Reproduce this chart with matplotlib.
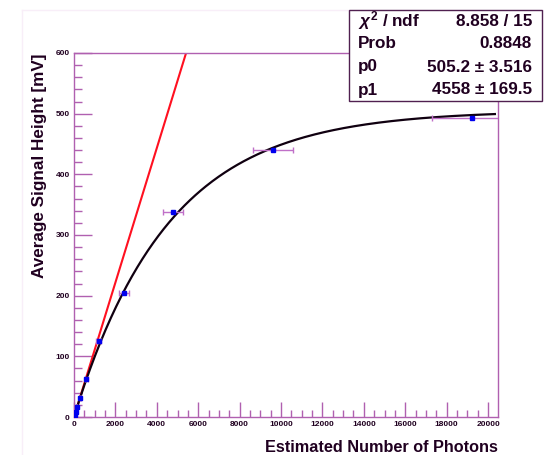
import numpy as np
import matplotlib
matplotlib.use('Agg')
import matplotlib.pyplot as plt
from matplotlib.patches import Rectangle
from matplotlib.ticker import MultipleLocator

plt.rcParams['font.family'] = ['Liberation Sans', 'DejaVu Sans']
plt.rcParams['mathtext.fontset'] = 'custom'
plt.rcParams['mathtext.it'] = 'Liberation Sans:italic:bold'
plt.rcParams['mathtext.rm'] = 'Liberation Sans:bold'

# --- DATA ---
photons = [18.75, 37.5, 75, 150, 300, 600, 1200, 2400, 4800, 9600, 19200]
signal = [2, 4, 8.5, 16, 31, 62, 125, 205, 338, 440, 493]
photon_err = [0.1 * p for p in photons]

p0, p1 = 505.2, 4558.0
stats_names = [r'$\chi^2$ / ndf', 'Prob', 'p0', 'p1']
stats_vals = ['8.858 / 15', '0.8848', '505.2 \u00b1 3.516', '4558 \u00b1 169.5']

FRAME = '#b060b0'
TXT = '#200020'

fig = plt.figure(figsize=(5.44, 4.55), dpi=100)
ax = fig.add_axes([74 / 544, 1 - 417 / 455, 424 / 544, 364 / 455])

# fit curve and initial slope line
xf = np.linspace(0, 20330, 400)
ax.plot(xf, p0 * (1 - np.exp(-xf / p1)), color='#100010', lw=1.6, zorder=3)
xl = np.linspace(0, 6000, 50)
ax.plot(xl, p0 / p1 * xl, color='#ff1020', lw=1.5, zorder=2)

ax.errorbar(photons, signal, xerr=photon_err, fmt='s', ms=3.5,
            color='#0000ee', ecolor='#c070c8', elinewidth=1, capsize=2,
            capthick=1, zorder=4)

ax.set_xlim(0, 20480)
ax.set_ylim(0, 600)
ax.xaxis.set_major_locator(MultipleLocator(2000))
ax.xaxis.set_minor_locator(MultipleLocator(500))
ax.yaxis.set_major_locator(MultipleLocator(100))
ax.yaxis.set_minor_locator(MultipleLocator(20))
ax.tick_params(axis='x', which='major', direction='in', length=11, width=1,
               color=FRAME, labelsize=6, labelcolor=TXT, pad=3)
ax.tick_params(axis='x', which='minor', direction='in', length=5, width=1, color=FRAME)
ax.tick_params(axis='y', which='major', direction='in', length=13, width=1,
               color=FRAME, labelsize=6, labelcolor=TXT, pad=3)
ax.tick_params(axis='y', which='minor', direction='in', length=6, width=1, color=FRAME)
for lab in ax.get_xticklabels() + ax.get_yticklabels():
    lab.set_fontweight('bold')
for s in ax.spines.values():
    s.set_color(FRAME)
    s.set_linewidth(1)

fig.text(498 / 544, 1 - 447 / 455, 'Estimated Number of Photons', ha='right',
         va='center', fontsize=11.7, fontweight='bold', color=TXT)
fig.text(40 / 544, 1 - 53 / 455, 'Average Signal Height [mV]', ha='center',
         va='top', rotation=90, fontsize=12.3, fontweight='bold', color=TXT)

# faint pad border
fig.add_artist(plt.Line2D([22 / 544, 22 / 544], [0, 1 - 10 / 455], color='#f8eef8', lw=1))
fig.add_artist(plt.Line2D([22 / 544, 1], [1 - 10 / 455, 1 - 10 / 455], color='#f8eef8', lw=1))

# stats box
bx0, by0, bx1, by1 = 349 / 544, 1 - 101 / 455, 542 / 544, 1 - 10 / 455
fig.add_artist(Rectangle((bx0, by0), bx1 - bx0, by1 - by0, transform=fig.transFigure,
                         facecolor='white', edgecolor='#502050', lw=1, zorder=10))
row_y = [21, 44, 67, 90]
for name, val, yy in zip(stats_names, stats_vals, row_y):
    fig.text(358 / 544, 1 - yy / 455, name, ha='left', va='center', fontsize=12.3,
             fontweight='bold', color=TXT, zorder=11)
    fig.text(532 / 544, 1 - yy / 455, val, ha='right', va='center', fontsize=12.3,
             fontweight='bold', color=TXT, zorder=11)

fig.savefig('out.png', dpi=100, facecolor='white')
